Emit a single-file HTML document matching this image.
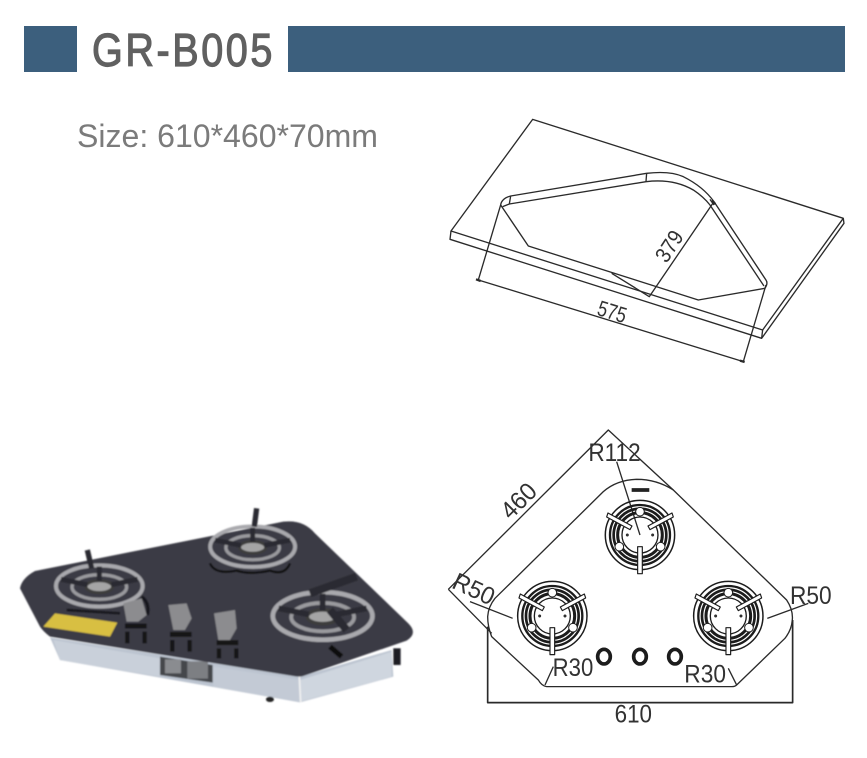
<!DOCTYPE html>
<html><head><meta charset="utf-8"><title>GR-B005</title>
<style>html,body{margin:0;padding:0;background:#fff;width:867px;height:758px;overflow:hidden}svg{display:block}
text{font-family:"Liberation Sans",sans-serif}</style></head>
<body>
<svg width="867" height="758" viewBox="0 0 867 758" xmlns="http://www.w3.org/2000/svg">
<defs>
<filter id="b" x="-5%" y="-5%" width="110%" height="110%"><feGaussianBlur stdDeviation="2.7"/></filter>
<filter id="s"><feGaussianBlur stdDeviation="0.4"/></filter>
<g id="burner" fill="none" stroke="#1c1c1c">
<circle r="104" stroke-width="4.5"/>
<circle r="90" stroke-width="7"/>
<circle r="79" stroke-width="8"/>
<circle r="67" stroke-width="9"/>
<circle r="54" stroke-width="4"/>
<circle cx="0" cy="-70" r="13" fill="#fff" stroke-width="3"/>
<circle cx="-62" cy="35" r="13" fill="#fff" stroke-width="3"/>
<circle cx="62" cy="35" r="13" fill="#fff" stroke-width="3"/>
<circle cx="-38" cy="0" r="4" fill="#333" stroke-width="1"/>
<circle cx="38" cy="0" r="4" fill="#333" stroke-width="1"/>
<path d="M-7,116V35H7V116Z" fill="#fff" stroke-width="3.5"/>
<path d="M-100,-54L-30,-16L-24,-27L-96,-66Z" fill="#fff" stroke-width="3.5"/>
<path d="M100,-54L30,-16L24,-27L96,-66Z" fill="#fff" stroke-width="3.5"/>
</g>
<g id="hob" fill="none">
<ellipse cx="0" cy="0" rx="130" ry="62" stroke="#a9a9ad" stroke-width="12"/>
<ellipse cx="0" cy="3" rx="82" ry="37" stroke="#9a9a9e" stroke-width="10"/>
<ellipse cx="0" cy="2" rx="40" ry="18" fill="#a5a5a5" stroke="#3c3c3c" stroke-width="9"/>
<path d="M-115,-20L-36,-4M115,-20L36,-4M0,-58V-15" stroke="#2a2a30" stroke-width="15"/>
</g>
</defs>

<rect x="24" y="26" width="53" height="46" fill="#3c5f7d"/>
<rect x="288" y="26" width="557" height="46" fill="#3c5f7d"/>
<text transform="translate(92,66) scale(.86,1)" font-size="46" letter-spacing="3" fill="#606060" stroke="#606060" stroke-width="1.2">GR-B005</text>
<text x="77" y="147" font-size="32" fill="#7b7b7b" textLength="301" lengthAdjust="spacingAndGlyphs">Size: 610*460*70mm</text>

<!-- isometric drawing -->
<g transform="translate(440,110) scale(.3333)" fill="none" stroke="#2b2b2b" stroke-width="4" stroke-linejoin="round" filter="url(#s)">
<path d="M278,28L1210,325L968,660L33,363Z"/>
<path d="M33,363L30,388L965,685L968,660M965,685L1212,340L1210,325"/>
<path d="M182,285Q185,265 212,258L620,190Q690,182 730,200Q790,230 822,275L978,510Q985,520 975,535L775,570L265,408Z"/>
<path d="M212,258L208,282M188,290L208,282L618,215L620,190M618,215Q700,205 760,240Q790,260 810,285L972,528M810,268L822,285"/>
<path d="M182,285L115,510L910,755L978,525M822,275L628,560L515,490"/>
<path d="M108,508L122,513M900,752L914,756M815,272L826,282" stroke-width="7"/>
<text transform="translate(680,462) rotate(-57)" font-size="66" fill="#333" stroke="none" textLength="98" lengthAdjust="spacingAndGlyphs">379</text>
<text transform="translate(468,614) rotate(17)" font-size="66" fill="#333" stroke="none" textLength="88" lengthAdjust="spacingAndGlyphs">575</text>
</g>

<!-- plan view -->
<g transform="translate(440,430) scale(.3333)" fill="none" stroke="#2b2b2b" stroke-width="4" stroke-linejoin="round" filter="url(#s)">
<path d="M143,560Q145,530 165,505L490,185Q530,150 590,148Q650,148 700,180L1040,510Q1060,540 1057,570Q1055,600 1035,625L890,765Q885,770 875,770L320,770Q305,768 295,750L155,620Q143,590 143,560Z"/>
<path d="M25,478L505,0L700,180M25,478L155,610"/>
<path d="M143,590V818H1058V570" stroke-width="5"/>
<path d="M530,95L600,315M90,515L218,565M982,565L1105,520M315,765L340,710M890,765L865,715"/>
<path d="M575,180H628" stroke="#222" stroke-width="11"/>
<use href="#burner" x="600" y="315"/>
<use href="#burner" x="337" y="558"/>
<use href="#burner" x="865" y="558"/>
<g stroke="#1c1c1c" stroke-width="11">
<ellipse cx="492" cy="680" rx="19" ry="22"/>
<ellipse cx="600" cy="680" rx="19" ry="22"/>
<ellipse cx="705" cy="680" rx="19" ry="22"/>
</g>
<g fill="#333" stroke="none" font-size="74">
<text x="445" y="93" textLength="157" lengthAdjust="spacingAndGlyphs">R112</text>
<text transform="translate(212,272) rotate(-45)" textLength="118" lengthAdjust="spacingAndGlyphs">460</text>
<text transform="translate(32,472) rotate(25)" textLength="130" lengthAdjust="spacingAndGlyphs">R50</text>
<text x="1050" y="522" textLength="125" lengthAdjust="spacingAndGlyphs">R50</text>
<text x="338" y="738" textLength="122" lengthAdjust="spacingAndGlyphs">R30</text>
<text x="733" y="758" textLength="125" lengthAdjust="spacingAndGlyphs">R30</text>
<text x="524" y="878" textLength="112" lengthAdjust="spacingAndGlyphs">610</text>
</g>
</g>

<!-- product photo -->
<g transform="translate(10,500) scale(.3333)" filter="url(#b)">
<path d="M120,412L150,480L870,607L1150,530L1145,450L870,530Z" fill="#bcc4d0"/>
<path d="M130,420L450,475V530L150,480Z" fill="#c9d0da"/>
<path d="M610,500L870,540V605L610,560Z" fill="#c3cad5"/>
<path d="M870,540L1145,455V530L870,605Z" fill="#cfd6df"/>
<path d="M868,530L872,607" stroke="#f2f2f2" stroke-width="5"/>
<path d="M450,470L608,495V548L450,525Z" fill="#45474c"/>
<rect x="465" y="478" width="48" height="42" fill="#8a8c90"/>
<rect x="532" y="484" width="62" height="52" fill="#7d7f83"/>
<path d="M1150,445h22v50h-22z" fill="#1e1e22"/>
<ellipse cx="780" cy="598" rx="12" ry="8" fill="#222"/>
<path d="M30,265Q35,235 75,213L820,65Q880,58 915,100L1195,370Q1225,400 1190,422L880,528Q870,532 850,528L120,410Q100,395 90,380Z" fill="#3b3b45"/>
<path d="M135,340L322,368L300,410L100,380Z" fill="#d8bf42"/>
<path d="M600,190Q615,225 680,212Q720,225 780,212Q825,228 840,190" fill="none" stroke="#0e0e10" stroke-width="7"/>
<use href="#hob" transform="translate(268,258)"/>
<use href="#hob" transform="translate(728,140) scale(.98)"/>
<use href="#hob" transform="translate(938,348) scale(1.15)"/>
<path d="M232,150L245,205M740,25L733,80" stroke="#2c2c30" stroke-width="16"/>
<path d="M900,280L1040,230M960,330L1010,390" stroke="#2a2a30" stroke-width="24"/>
<path d="M960,440L995,470" stroke="#111" stroke-width="16"/>
<path d="M170,330L330,340" stroke="#18181c" stroke-width="8"/>
<path d="M395,290Q420,310 412,345" stroke="#18181c" stroke-width="10" fill="none"/>
<g fill="#8c8c8f">
<path d="M340,310L395,295L410,345L385,365H350Z"/>
<path d="M475,315L530,310L545,355L525,390H490Z"/>
<path d="M612,340L675,330L680,385L660,420H625Z"/>
</g>
<g fill="none" stroke="#121214" stroke-width="15">
<path d="M345,378H410M480,403H545M620,428H685"/>
<path d="M352,395V430M404,395V430M487,420V455M539,420V455M627,445V475M679,445V475" stroke-width="13"/>
</g>
</g>
</svg>
</body></html>
